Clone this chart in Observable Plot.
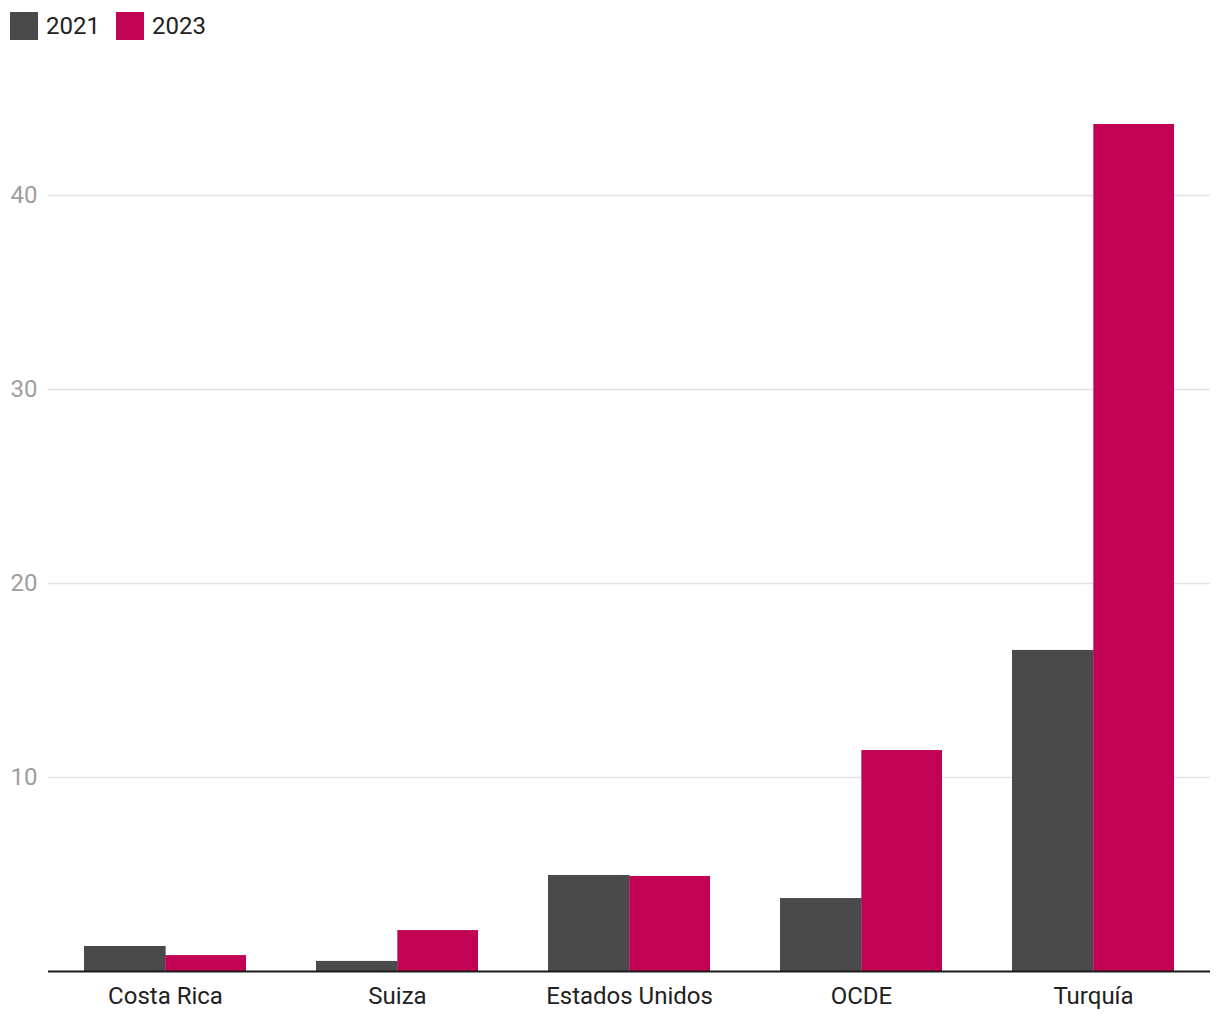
<!DOCTYPE html>
<html>
<head>
<meta charset="utf-8">
<script src="https://cdn.jsdelivr.net/npm/d3@7"></script>
<script src="https://cdn.jsdelivr.net/npm/@observablehq/plot@0.6"></script>
<style>
  html, body { margin: 0; padding: 0; background: #fff; font-family: Roboto, "Noto Sans", sans-serif; }
  #wrap { position: relative; width: 1220px; height: 1020px; }
  #legend { position: absolute; left: 10px; top: 12px; height: 28px; display: flex; align-items: center; font-size: 24px; color: #222; }
  .item { display: flex; align-items: center; margin-right: 16px; }
  .sw { width: 28px; height: 28px; margin-right: 8px; }
  #chart { position: absolute; left: 0; top: 50px; }
</style>
</head>
<body>
<div id="wrap">
  <div id="legend"></div>
  <div id="chart"></div>
</div>
<script>
const countries = ["Costa Rica", "Suiza", "Estados Unidos", "OCDE", "Turquía"];
const years = ["2021", "2023"];
const values2021 = [1.29, 0.52, 4.95, 3.76, 16.55];
const values2023 = [0.82, 2.11, 4.90, 11.39, 43.66];
const yTicks = [10, 20, 30, 40];
const colors = ["#4a4a4a", "#c20252"];

const rows2021 = countries.map((c, i) => ({country: c, year: "2021", value: values2021[i]}));
const rows2023 = countries.map((c, i) => ({country: c, year: "2023", value: values2023[i]}));

const width = 1220, marginLeft = 48, marginRight = 10, paddingInner = 0.3, paddingOuter = 0.15;
const step = (width - marginLeft - marginRight) / (countries.length - paddingInner + 2 * paddingOuter);
const half = step * (1 - paddingInner) / 2;

const legend = document.getElementById("legend");
years.forEach((y, i) => {
  const it = document.createElement("div");
  it.className = "item";
  it.innerHTML = `<div class="sw" style="background:${colors[i]}"></div><span>${y}</span>`;
  legend.appendChild(it);
});

const chart = Plot.plot({
  width,
  height: 970,
  marginLeft,
  marginRight,
  marginTop: 48,
  marginBottom: 49,
  style: {fontFamily: "Roboto, 'Noto Sans', sans-serif", background: "#fff"},
  x: {domain: countries, paddingInner, paddingOuter, label: null},
  y: {domain: [0, 45], label: null},
  color: {domain: years, range: colors},
  marks: [
    Plot.ruleY(yTicks, {stroke: "#e3e3e3", strokeWidth: 1.5}),
    Plot.barY(rows2021, {x: "country", y: "value", fill: "year", insetRight: half - 1, insetLeft: 0}),
    Plot.barY(rows2023, {x: "country", y: "value", fill: "year", insetLeft: half, insetRight: 0}),
    Plot.ruleY([0], {stroke: "#1a1a1a", strokeWidth: 2}),
    Plot.axisY({ticks: yTicks, tickSize: 0, tickPadding: 11, color: "#9e9e9e", label: null}),
    Plot.axisX({tickSize: 0, tickPadding: 15, color: "#222", label: null})
  ]
});
chart.querySelectorAll("text").forEach(t => t.style.fontSize = "24px");
document.getElementById("chart").appendChild(chart);
</script>
</body>
</html>
